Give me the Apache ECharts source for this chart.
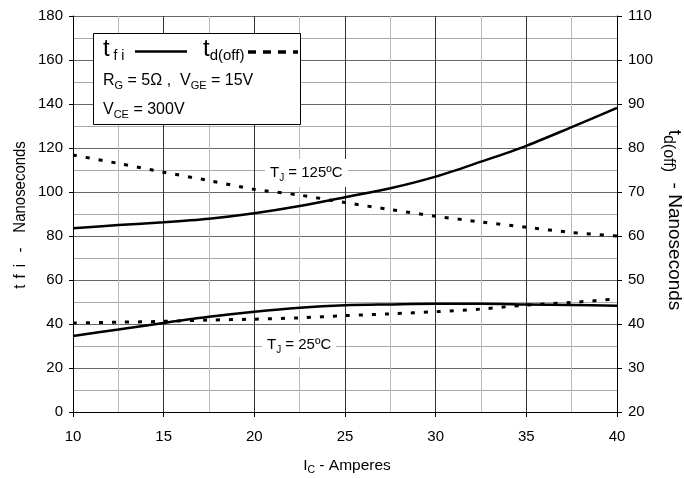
<!DOCTYPE html>
<html><head><meta charset="utf-8">
<script src="https://cdn.jsdelivr.net/npm/echarts@6/dist/echarts.min.js"></script>
<style>html,body{margin:0;padding:0;background:#fff}#c{width:684px;height:478px}</style>
</head><body><div id="c"></div>
<script>
// Collector current (A)
const icA = [10, 12.5, 15, 17.5, 20, 22.5, 25, 27.5, 30, 32.5, 35, 37.5, 40];
// t_fi at TJ = 125C (ns, left axis)
const tfi125 = [83.5, 85, 86.2, 87.8, 90.3, 93.6, 97.6, 101.7, 107, 113.8, 121, 129.5, 138.2];
// t_fi at TJ = 25C (ns, left axis)
const tfi25 = [34.5, 37.5, 40.5, 43.3, 45.6, 47.4, 48.5, 48.9, 49.2, 49.2, 48.9, 48.6, 48.3];
// t_d(off) at TJ = 125C (ns, right axis)
const tdoff125 = [78.4, 76.5, 74.5, 72.6, 70.6, 69.3, 67.6, 66.0, 64.5, 63.2, 62.0, 60.8, 60.0];
// t_d(off) at TJ = 25C (ns, right axis)
const tdoff25 = [40.2, 40.4, 40.6, 40.9, 41.1, 41.4, 41.9, 42.3, 42.8, 43.4, 44.3, 44.9, 45.7];
// axis ticks
const xTicks = [10, 15, 20, 25, 30, 35, 40];
const leftTicks = [0, 20, 40, 60, 80, 100, 120, 140, 160, 180];
const rightTicks = [20, 30, 40, 50, 60, 70, 80, 90, 100, 110];

const F = '"Liberation Sans", Arial, sans-serif';
const pair = (xs, ys) => xs.map((x, i) => [x, ys[i]]);

const chart = echarts.init(document.getElementById('c'), null, {renderer: 'canvas'});
const axisLbl = {color: '#000', fontFamily: F, fontSize: 15};
const subRich = (n, s, lh, pad) => ({
  n: {fontFamily: F, fontSize: n, color: '#000', lineHeight: lh},
  s: {fontFamily: F, fontSize: s, color: '#000', lineHeight: lh, verticalAlign: 'bottom', padding: [pad, 0, 0, 0]}
});
const ttl = (pl) => ({fontFamily: F, fontSize: 17, color: '#000', padding: [0, 0, 0, pl]});
chart.setOption({
  animation: false,
  grid: {left: 73, right: 67, top: 16, bottom: 66},
  xAxis: {
    type: 'value', min: xTicks[0], max: xTicks[xTicks.length - 1], interval: 5,
    axisLine: {lineStyle: {color: '#000', width: 1}},
    axisTick: {show: true, length: 5, lineStyle: {color: '#000'}},
    axisLabel: Object.assign({margin: 17}, axisLbl),
    splitLine: {show: true, lineStyle: {color: '#333', width: 1}},
    minorTick: {show: false, splitNumber: 2},
    minorSplitLine: {show: true, lineStyle: {color: '#bbb', width: 1}}
  },
  yAxis: [{
    type: 'value', min: leftTicks[0], max: leftTicks[leftTicks.length - 1], interval: 20,
    axisLine: {show: true, lineStyle: {color: '#000'}},
    axisTick: {show: true, length: 4, lineStyle: {color: '#000'}},
    axisLabel: Object.assign({margin: 10}, axisLbl),
    splitLine: {show: true, lineStyle: {color: '#666'}},
    minorTick: {show: false, splitNumber: 2},
    minorSplitLine: {show: true, lineStyle: {color: '#aaa'}}
  }, {
    type: 'value', min: rightTicks[0], max: rightTicks[rightTicks.length - 1], interval: 10,
    position: 'right',
    axisLine: {show: true, lineStyle: {color: '#000'}},
    axisTick: {show: true, length: 5, lineStyle: {color: '#000'}},
    axisLabel: Object.assign({margin: 11}, axisLbl),
    splitLine: {show: false}
  }],
  series: [
    {type: 'line', yAxisIndex: 0, data: pair(icA, tfi125), smooth: 0.3, symbol: 'none',
     lineStyle: {color: '#000', width: 2.5}},
    {type: 'line', yAxisIndex: 0, data: pair(icA, tfi25), smooth: 0.3, symbol: 'none',
     lineStyle: {color: '#000', width: 2.5}},
    {type: 'line', yAxisIndex: 1, data: pair(icA, tdoff125), smooth: 0.3, symbol: 'none',
     lineStyle: {color: '#000', width: 3, type: [4, 9]}},
    {type: 'line', yAxisIndex: 1, data: pair(icA, tdoff25), smooth: 0.3, symbol: 'none',
     lineStyle: {color: '#000', width: 3, type: [4, 9]}}
  ],
  graphic: [
    // TJ labels
    {type: 'text', left: 265, top: 159, z: 100, style: {
      text: '{n|T}{s|J}{n| = 125ºC}', backgroundColor: '#fff', padding: [4, 5, 4, 5],
      rich: subRich(15, 10, 20, 9)}},
    {type: 'text', left: 262, top: 333, z: 100, style: {
      text: '{n|T}{s|J}{n| = 25ºC}', backgroundColor: '#fff', padding: [2, 5, 2, 5],
      rich: subRich(15, 10, 20, 9)}},
    // legend box
    {type: 'rect', shape: {x: 93.5, y: 33.5, width: 207, height: 91}, z: 100,
     style: {fill: '#fff', stroke: '#000', lineWidth: 1}},
    {type: 'text', left: 103, top: 37, z: 101, style: {
      text: '{b|t}{s| f i}', rich: {
        b: {fontFamily: F, fontSize: 24, color: '#000', lineHeight: 28},
        s: {fontFamily: F, fontSize: 14, color: '#000', lineHeight: 28, verticalAlign: 'bottom', padding: [11, 0, 0, 0]}}}},
    {type: 'line', z: 101, shape: {x1: 135, y1: 51.5, x2: 187, y2: 51.5}, style: {stroke: '#000', lineWidth: 2.5}},
    {type: 'text', left: 203, top: 37, z: 101, style: {
      text: '{b|t}{s|d(off)}', rich: {
        b: {fontFamily: F, fontSize: 24, color: '#000', lineHeight: 28},
        s: {fontFamily: F, fontSize: 15, color: '#000', lineHeight: 28, verticalAlign: 'bottom', padding: [11, 0, 0, 0]}}}},
    {type: 'line', z: 101, shape: {x1: 248, y1: 52, x2: 298, y2: 52}, style: {stroke: '#000', lineWidth: 3.5, lineDash: [8, 7]}},
    {type: 'text', left: 103, top: 71, z: 101, style: {
      text: '{n|R}{s|G}{n| = 5Ω ,  V}{s|GE}{n| = 15V}', rich: subRich(16, 11, 20, 9)}},
    {type: 'text', left: 103, top: 100, z: 101, style: {
      text: '{n|V}{s|CE}{n| = 300V}', rich: subRich(16, 11, 20, 9)}},
    // x axis title
    {type: 'text', x: 347, y: 466, style: {
      text: '{n|I}{s|C}{n| - Amperes}', align: 'center', verticalAlign: 'middle', rich: subRich(15.5, 10.5, 20, 9)}},
    // left axis title
    {type: 'text', x: 20, y: 215, rotation: Math.PI / 2, scaleX: 0.88, style: {
      text: '{a|t}{b|f}{c|i}{d|-}{e|Nanoseconds}', align: 'center', verticalAlign: 'middle', rich: {
        a: ttl(0), b: ttl(7), c: ttl(8), d: ttl(13), e: ttl(17)}}},
    // right axis title
    {type: 'text', x: 674, y: 220, rotation: -Math.PI / 2, style: {
      text: '{n|t}{s|d(off)}{n|  - Nanoseconds}', align: 'center', verticalAlign: 'middle', rich: subRich(19, 16, 28, 12)}}
  ]
});
</script></body></html>
